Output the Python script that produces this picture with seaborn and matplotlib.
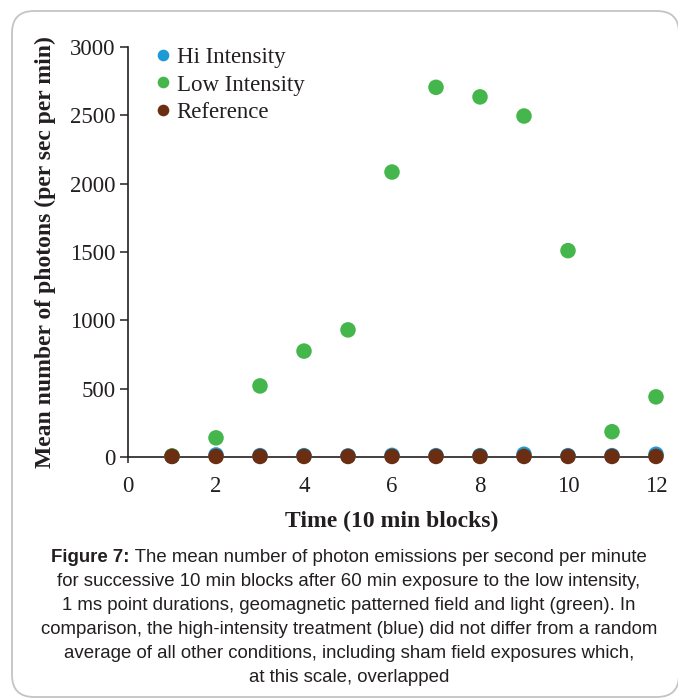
import numpy as np
import pandas as pd
import seaborn as sns
import matplotlib
matplotlib.use("Agg")
import matplotlib.pyplot as plt
from matplotlib.patches import FancyBboxPatch

# ---- data ----
time_blocks = [1, 2, 3, 4, 5, 6, 7, 8, 9, 10, 11, 12]
hi_intensity = [5, 15, 10, 10, 8, 12, 10, 10, 20, 10, 10, 20]
low_intensity = [8, 140, 520, 775, 930, 2085, 2705, 2635, 2495, 1510, 185, 440]
reference = [4, 4, 4, 4, 4, 4, 4, 4, 4, 4, 4, 4]
series_names = ["Hi Intensity", "Low Intensity", "Reference"]
series_colors = ["#1c9ad6", "#45b64b", "#6b2e12"]
x_ticks = [0, 2, 4, 6, 8, 10, 12]
y_ticks = [0, 500, 1000, 1500, 2000, 2500, 3000]

caption_lines = [
    ("Figure 7:", " The mean number of photon emissions per second per minute"),
    ("", "for successive 10 min blocks after 60 min exposure to the low intensity,"),
    ("", "1 ms point durations, geomagnetic patterned field and light (green). In"),
    ("", "comparison, the high-intensity treatment (blue) did not differ from a random"),
    ("", "average of all other conditions, including sham field exposures which,"),
    ("", "at this scale, overlapped"),
]

df = pd.DataFrame({
    "Time": time_blocks * 3,
    "Value": hi_intensity + low_intensity + reference,
    "Series": [series_names[0]] * 12 + [series_names[1]] * 12 + [series_names[2]] * 12,
})

sns.set_theme(style="white")
plt.rcParams["font.family"] = ["Liberation Serif", "DejaVu Serif"]

W, H = 678, 698
fig = plt.figure(figsize=(W / 100, H / 100), dpi=100)
ax = fig.add_axes([128 / W, 1 - 457 / H, (656 - 128) / W, (457 - 47) / H])

palette = dict(zip(series_names, series_colors))
sns.scatterplot(data=df, x="Time", y="Value", hue="Series", palette=palette,
                s=125, linewidth=0, ax=ax, clip_on=False, zorder=3)

ax.set_xlim(0, 12)
ax.set_ylim(0, 3000)
ax.set_xticks(x_ticks)
ax.set_yticks(y_ticks)
for s in ["top", "right"]:
    ax.spines[s].set_visible(False)
for s in ["left", "bottom"]:
    ax.spines[s].set_color("#231f20")
    ax.spines[s].set_linewidth(1.2)
    ax.spines[s].set_zorder(1)
ax.tick_params(axis="both", which="major", direction="out", length=6, width=1.1,
               color="#231f20", labelsize=16.5, labelcolor="#231f20", pad=3,
               left=True, bottom=True)
ax.tick_params(axis="x", length=4, pad=10)

ax.set_xlabel("Time (10 min blocks)", fontsize=17, fontweight="bold", color="#231f20", labelpad=10)
ax.set_ylabel("Mean number of photons (per sec per min)", fontsize=17, fontweight="bold",
              color="#231f20", labelpad=10)

handles, labels = ax.get_legend_handles_labels()
leg = ax.legend(handles, labels, loc="upper left", bbox_to_anchor=(0.055, 1.0),
                frameon=False, fontsize=16.5, handlelength=0.5, handletextpad=0.35,
                labelspacing=0.28, markerscale=0.75, borderaxespad=0, borderpad=0)
for t in leg.get_texts():
    t.set_color("#231f20")

# caption
fig.canvas.draw()
renderer = fig.canvas.get_renderer()
y0 = 557
cx = 349
for i, (bold, rest) in enumerate(caption_lines):
    yy = 1 - (y0 + i * 24) / H
    kw = dict(fontsize=13.4, color="#231f20", family=["Liberation Sans", "DejaVu Sans"], va="center")
    if bold:
        tb = fig.text(0, yy, bold, fontweight="bold", ha="left", **kw)
        tr = fig.text(0, yy, rest, ha="left", **kw)
        wb = tb.get_window_extent(renderer).width
        wr = tr.get_window_extent(renderer).width
        start = cx - (wb + wr) / 2
        tb.set_x(start / W)
        tr.set_x((start + wb) / W)
    else:
        fig.text(cx / W, yy, rest, ha="center", **kw)

# rounded frame (pixel coordinates)
frame = FancyBboxPatch((12, 1), 679 - 12, 687 - 1,
                       boxstyle="round,pad=0,rounding_size=22",
                       transform=None, facecolor="none",
                       edgecolor="#c4c4c4", linewidth=1.3, clip_on=False)
fig.patches.append(frame)

fig.savefig("out.png", dpi=100)
